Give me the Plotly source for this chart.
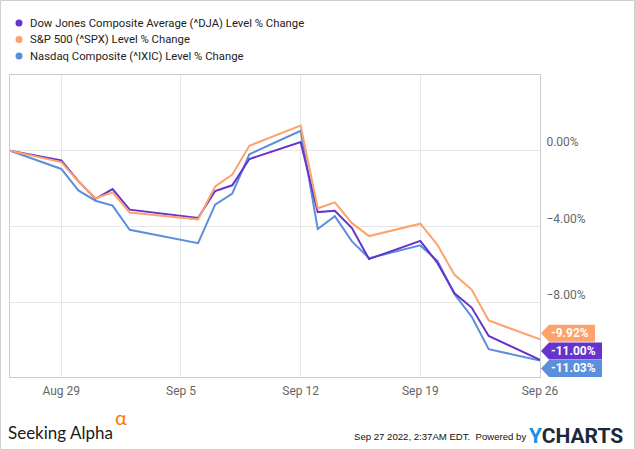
import plotly.graph_objects as go

dates = ["2022-08-26", "2022-08-29", "2022-08-30", "2022-08-31", "2022-09-01", "2022-09-02",
         "2022-09-06", "2022-09-07", "2022-09-08", "2022-09-09", "2022-09-12", "2022-09-13",
         "2022-09-14", "2022-09-15", "2022-09-16", "2022-09-19", "2022-09-20", "2022-09-21",
         "2022-09-22", "2022-09-23", "2022-09-26"]

dja = [0, -0.51, -1.60, -2.53, -2.02, -3.10, -3.54, -2.12, -1.82, -0.44, 0.46, -3.23,
       -3.16, -4.07, -5.70, -4.74, -5.90, -7.50, -8.25, -9.74, -11.00]
spx = [0, -0.60, -1.62, -2.50, -2.19, -3.25, -3.61, -1.88, -1.26, 0.26, 1.32, -3.03,
       -2.72, -3.81, -4.49, -3.84, -4.95, -6.53, -7.30, -8.93, -9.92]
ixic = [0, -0.96, -2.09, -2.63, -2.89, -4.16, -4.86, -2.84, -2.26, -0.19, 1.05, -4.12,
        -3.44, -4.77, -5.65, -4.98, -5.80, -7.55, -8.72, -10.44, -11.03]

names = ["Dow Jones Composite Average (^DJA) Level % Change",
         "S&P 500 (^SPX) Level % Change",
         "Nasdaq Composite (^IXIC) Level % Change"]
series = [dja, spx, ixic]
colors = ["#6633cc", "#fda26b", "#5b8fdc"]
label_shift = [9, 6, -8]  # vertical pixel offset of end labels (avoid overlap)

W, H = 635, 450
ML, MR, MT, MB = 10, 95, 75, 73
PW, PH = W - ML - MR, H - MT - MB
YRANGE = [-11.9, 3.98]


def px_x(px):
    return (px - ML) / PW


def px_y(py):
    return (MT + PH - py) / PH


def val_y(v):
    return (v - YRANGE[0]) / (YRANGE[1] - YRANGE[0])


fig = go.Figure()

# draw order: nasdaq, dow, s&p
for i in [2, 0, 1]:
    fig.add_trace(go.Scatter(x=dates, y=series[i], mode="lines", name=names[i],
                             line=dict(color=colors[i], width=2),
                             showlegend=False, hoverinfo="skip"))

shapes = []
annotations = []

# end-value labels
for i in range(3):
    v = series[i][-1]
    c = label_shift[i]
    txt = f"{v:.2f}%"
    w = 13 + 7 * len(txt)
    shapes.append(dict(type="path", xref="paper", yref="paper", xsizemode="pixel", ysizemode="pixel",
                       xanchor=1, yanchor=val_y(v),
                       path=f"M 1 {c} L 9 {c+8.5} L {w} {c+8.5} L {w} {c-8.5} L 9 {c-8.5} Z",
                       fillcolor=colors[i], line=dict(width=0), layer="above"))
    annotations.append(dict(x=1, y=val_y(v), xref="paper", yref="paper", text=f"<b>{txt}</b>",
                            showarrow=False, xanchor="left", yanchor="middle",
                            xshift=9, yshift=c,
                            font=dict(family="Roboto", size=12, color="white")))

# legend (top-left)
for i in range(3):
    cy = 23 + 16.5 * i
    shapes.append(dict(type="circle", xref="paper", yref="paper", xsizemode="pixel", ysizemode="pixel",
                       xanchor=px_x(19), yanchor=px_y(cy), x0=-3.5, x1=3.5, y0=-3.5, y1=3.5,
                       fillcolor=colors[i], line=dict(width=0)))
    annotations.append(dict(xref="paper", yref="paper", x=px_x(28), y=px_y(cy), text=names[i],
                            showarrow=False, xanchor="left", yanchor="middle",
                            font=dict(family="Roboto", size=11.3, color="#222222")))

# outer frame
shapes.append(dict(type="rect", xref="paper", yref="paper",
                   x0=px_x(0.5), x1=px_x(W - 0.5), y0=px_y(H - 0.5), y1=px_y(0.5),
                   line=dict(color="#d0d0d0", width=1), layer="below"))

# footer
annotations += [
    dict(xref="paper", yref="paper", x=px_x(6), y=px_y(432),
         text="Seeking Alpha", showarrow=False, xanchor="left", yanchor="middle",
         font=dict(family="Lato", size=17, color="#1a1a1a")),
    dict(xref="paper", yref="paper", x=px_x(113), y=px_y(417),
         text="α", showarrow=False, xanchor="left", yanchor="middle",
         font=dict(family="Lato", size=20, color="#f57c00")),
    dict(xref="paper", yref="paper", x=px_x(528), y=px_y(437),
         text="Sep 27 2022, 2:37AM EDT.  Powered by", showarrow=False,
         xanchor="right", yanchor="middle",
         font=dict(family="Liberation Sans Narrow, Liberation Sans", size=9.6, color="#111111")),
    dict(xref="paper", yref="paper", x=px_x(527), y=px_y(436),
         text="<b><span style='color:#1a8fe3'>Y</span>CHARTS</b>", showarrow=False,
         xanchor="left", yanchor="middle",
         font=dict(family="Roboto", size=21, color="#1b2a3a")),
]

fig.update_layout(
    width=W, height=H,
    margin=dict(l=ML, r=MR, t=MT, b=MB, autoexpand=False),
    paper_bgcolor="white", plot_bgcolor="white",
    font=dict(family="Roboto", size=12, color="#666666"),
    showlegend=False,
    xaxis=dict(type="date", range=["2022-08-26", "2022-09-26"],
               tick0="2022-08-29", dtick=7 * 24 * 3600 * 1000, tickformat="%b %-d",
               showgrid=True, gridcolor="#e6e6e6", gridwidth=1,
               showline=True, linecolor="#cccccc", linewidth=1, mirror=True,
               ticks="", zeroline=False, automargin=False, ticklabelstandoff=3,
               tickfont=dict(family="Roboto", size=12, color="#666666")),
    yaxis=dict(side="right", range=YRANGE, tick0=0, dtick=4,
               tickformat=".2f", ticksuffix="%", ticklabelposition="outside top",
               showgrid=True, gridcolor="#e6e6e6", gridwidth=1,
               showline=True, linecolor="#cccccc", linewidth=1, mirror=True,
               ticks="", zeroline=False, ticklabelstandoff=3, automargin=False,
               tickfont=dict(family="Roboto", size=12, color="#666666")),
    shapes=shapes, annotations=annotations,
    hovermode=False,
)

fig.write_html("out.html", config={"displayModeBar": False},
               post_script="document.body.style.margin='0';")
